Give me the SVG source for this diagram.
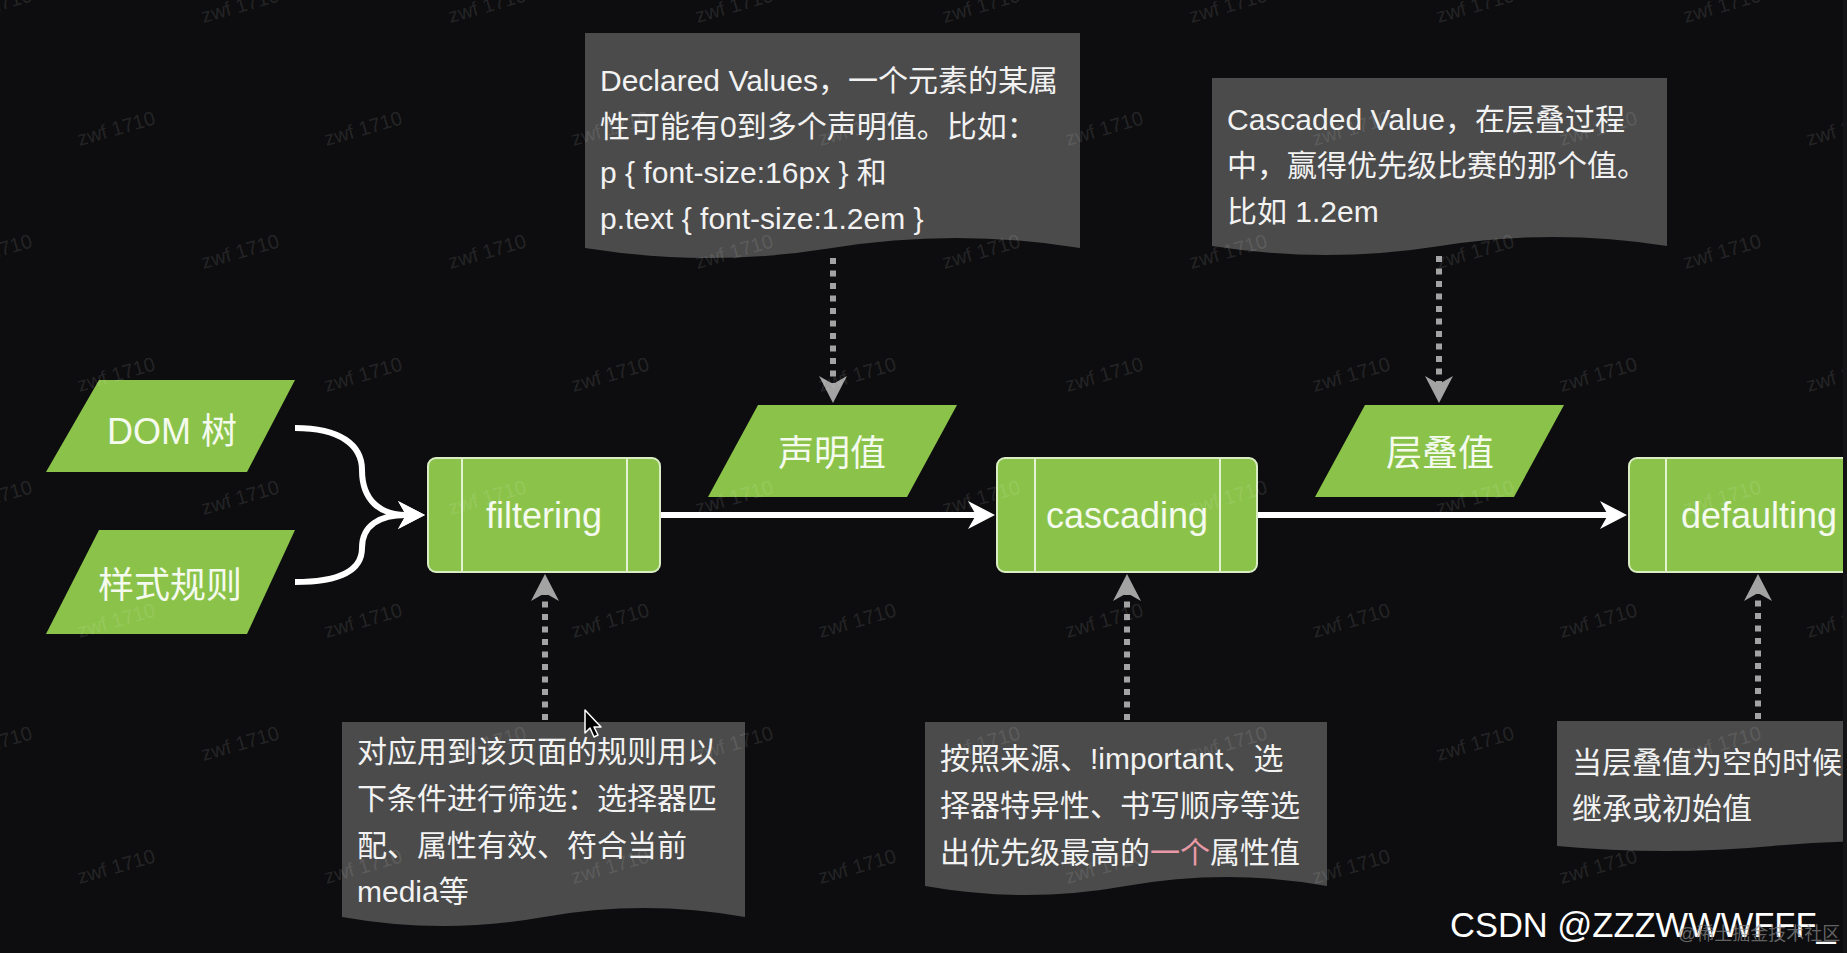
<svg xmlns="http://www.w3.org/2000/svg" width="1847" height="953" viewBox="0 0 1847 953">
<style>
.bg{fill:#0d0d0f}
.para{fill:#8bc34a}
.box{fill:#8bc34a;stroke:#d9ecc4;stroke-width:2}
.inner{stroke:#e4f2d4;stroke-width:2}
.lbl{font-family:"Liberation Sans","Noto Sans CJK SC",sans-serif;font-size:36px;fill:#f4faee}
.note{fill:#4b4b4b}
.nt{font-family:"Liberation Sans","Noto Sans CJK SC",sans-serif;font-size:30px;fill:#f2f2f2}
.flow{fill:none;stroke:#ffffff;stroke-width:6}
.dot{fill:none;stroke:#a3a3a3;stroke-width:6;stroke-dasharray:6 6.5}
.wm{font-family:"Liberation Sans",sans-serif;font-size:20px;fill:#ffffff;fill-opacity:0.11}
</style>
<defs>
<marker id="aw" viewBox="0 0 27 28" refX="8" refY="14" markerWidth="27" markerHeight="28" markerUnits="userSpaceOnUse" orient="auto">
<path d="M0,0 L27,14 L0,28 L8,14 Z" fill="#ffffff"/>
</marker>
<marker id="ag" viewBox="0 0 27 28" refX="8" refY="14" markerWidth="27" markerHeight="28" markerUnits="userSpaceOnUse" orient="auto">
<path d="M0,0 L27,14 L0,28 L8,14 Z" fill="#a3a3a3"/>
</marker>
</defs>
<rect class="bg" x="0" y="0" width="1847" height="953"/>

<g id="note-declared">
<path class="note" d="M585,33 H1080 V248 Q956,228 832,248 Q709,268 585,248 Z"/>
<text class="nt" x="600" y="91">Declared Values，一个元素的某属</text>
<text class="nt" x="600" y="137">性可能有0到多个声明值。比如：</text>
<text class="nt" x="600" y="183">p { font-size:16px } 和</text>
<text class="nt" x="600" y="229">p.text { font-size:1.2em }</text>
</g>
<g id="note-cascaded">
<path class="note" d="M1212,78 H1667 V246 Q1553,228 1440,246 Q1326,264 1212,246 Z"/>
<text class="nt" x="1227" y="130">Cascaded Value，在层叠过程</text>
<text class="nt" x="1227" y="176">中，赢得优先级比赛的那个值。</text>
<text class="nt" x="1227" y="222">比如 1.2em</text>
</g>
<g id="note-filtering">
<path class="note" d="M342,722 H745 V917 Q644,899 544,917 Q443,935 342,917 Z"/>
<text class="nt" x="357" y="762">对应用到该页面的规则用以</text>
<text class="nt" x="357" y="809">下条件进行筛选：选择器匹</text>
<text class="nt" x="357" y="856">配、属性有效、符合当前</text>
<text class="nt" x="357" y="902">media等</text>
</g>
<g id="note-cascading">
<path class="note" d="M925,722 H1327 V886 Q1227,868 1126,886 Q1026,904 925,886 Z"/>
<text class="nt" x="940" y="769">按照来源、!important、选</text>
<text class="nt" x="940" y="816">择器特异性、书写顺序等选</text>
<text class="nt" x="940" y="863">出优先级最高的<tspan fill="#e79aa6">一个</tspan>属性值</text>
</g>
<g id="note-defaulting">
<path class="note" d="M1557,721 H1990 V846 Q1880,836 1773,846 Q1665,856 1557,846 Z"/>
<text class="nt" x="1572" y="773">当层叠值为空的时候</text>
<text class="nt" x="1572" y="819">继承或初始值</text>
</g>

<g id="connectors">
<path class="flow" d="M295,428 C340,428 362,445 362,470 C362,500 380,515 406,515" marker-end="url(#aw)"/>
<path class="flow" d="M295,582 C340,582 362,570 362,548 C362,525 380,515 406,515" marker-end="url(#aw)"/>
<path class="flow" d="M660,515 H976" marker-end="url(#aw)"/>
<path class="flow" d="M1257,515 H1608" marker-end="url(#aw)"/>
<path class="dot" d="M833,258 V384" marker-end="url(#ag)"/>
<path class="dot" d="M1439,256 V384" marker-end="url(#ag)"/>
<path class="dot" d="M545,720 V593" marker-end="url(#ag)"/>
<path class="dot" d="M1127,720 V593" marker-end="url(#ag)"/>
<path class="dot" d="M1758,719 V593" marker-end="url(#ag)"/>
</g>

<g id="dom">
<polygon class="para" points="99,380 295,380 247,472 46,472"/>
<text class="lbl" x="172" y="431" text-anchor="middle" dominant-baseline="central">DOM 树</text>
</g>
<g id="rules">
<polygon class="para" points="99,530 295,530 247,634 46,634"/>
<text class="lbl" x="170" y="585" text-anchor="middle" dominant-baseline="central">样式规则</text>
</g>
<g id="filtering">
<rect class="box" x="428" y="458" width="232" height="114" rx="8"/>
<line class="inner" x1="462" y1="459" x2="462" y2="571"/>
<line class="inner" x1="627" y1="459" x2="627" y2="571"/>
<text class="lbl" x="544" y="528" text-anchor="middle">filtering</text>
</g>
<g id="declared">
<polygon class="para" points="758,405 957,405 907,497 708,497"/>
<text class="lbl" x="832" y="453" text-anchor="middle" dominant-baseline="central">声明值</text>
</g>
<g id="cascading">
<rect class="box" x="997" y="458" width="260" height="114" rx="8"/>
<line class="inner" x1="1035" y1="459" x2="1035" y2="571"/>
<line class="inner" x1="1220" y1="459" x2="1220" y2="571"/>
<text class="lbl" x="1127" y="528" text-anchor="middle">cascading</text>
</g>
<g id="cascaded">
<polygon class="para" points="1365,405 1564,405 1514,497 1315,497"/>
<text class="lbl" x="1440" y="453" text-anchor="middle" dominant-baseline="central">层叠值</text>
</g>
<g id="defaulting">
<rect class="box" x="1629" y="458" width="260" height="114" rx="8"/>
<line class="inner" x1="1666" y1="459" x2="1666" y2="571"/>
<text class="lbl" x="1681" y="528">defaulting</text>
</g>

<g id="watermarks">
<text class="wm" x="-5" y="12" text-anchor="middle" transform="rotate(-16 -5 12)">zwf 1710</text>
<text class="wm" x="242" y="12" text-anchor="middle" transform="rotate(-16 242 12)">zwf 1710</text>
<text class="wm" x="489" y="12" text-anchor="middle" transform="rotate(-16 489 12)">zwf 1710</text>
<text class="wm" x="736" y="12" text-anchor="middle" transform="rotate(-16 736 12)">zwf 1710</text>
<text class="wm" x="983" y="12" text-anchor="middle" transform="rotate(-16 983 12)">zwf 1710</text>
<text class="wm" x="1230" y="12" text-anchor="middle" transform="rotate(-16 1230 12)">zwf 1710</text>
<text class="wm" x="1477" y="12" text-anchor="middle" transform="rotate(-16 1477 12)">zwf 1710</text>
<text class="wm" x="1724" y="12" text-anchor="middle" transform="rotate(-16 1724 12)">zwf 1710</text>
<text class="wm" x="118" y="135" text-anchor="middle" transform="rotate(-16 118 135)">zwf 1710</text>
<text class="wm" x="365" y="135" text-anchor="middle" transform="rotate(-16 365 135)">zwf 1710</text>
<text class="wm" x="612" y="135" text-anchor="middle" transform="rotate(-16 612 135)">zwf 1710</text>
<text class="wm" x="859" y="135" text-anchor="middle" transform="rotate(-16 859 135)">zwf 1710</text>
<text class="wm" x="1106" y="135" text-anchor="middle" transform="rotate(-16 1106 135)">zwf 1710</text>
<text class="wm" x="1353" y="135" text-anchor="middle" transform="rotate(-16 1353 135)">zwf 1710</text>
<text class="wm" x="1600" y="135" text-anchor="middle" transform="rotate(-16 1600 135)">zwf 1710</text>
<text class="wm" x="1847" y="135" text-anchor="middle" transform="rotate(-16 1847 135)">zwf 1710</text>
<text class="wm" x="-5" y="258" text-anchor="middle" transform="rotate(-16 -5 258)">zwf 1710</text>
<text class="wm" x="242" y="258" text-anchor="middle" transform="rotate(-16 242 258)">zwf 1710</text>
<text class="wm" x="489" y="258" text-anchor="middle" transform="rotate(-16 489 258)">zwf 1710</text>
<text class="wm" x="736" y="258" text-anchor="middle" transform="rotate(-16 736 258)">zwf 1710</text>
<text class="wm" x="983" y="258" text-anchor="middle" transform="rotate(-16 983 258)">zwf 1710</text>
<text class="wm" x="1230" y="258" text-anchor="middle" transform="rotate(-16 1230 258)">zwf 1710</text>
<text class="wm" x="1477" y="258" text-anchor="middle" transform="rotate(-16 1477 258)">zwf 1710</text>
<text class="wm" x="1724" y="258" text-anchor="middle" transform="rotate(-16 1724 258)">zwf 1710</text>
<text class="wm" x="118" y="381" text-anchor="middle" transform="rotate(-16 118 381)">zwf 1710</text>
<text class="wm" x="365" y="381" text-anchor="middle" transform="rotate(-16 365 381)">zwf 1710</text>
<text class="wm" x="612" y="381" text-anchor="middle" transform="rotate(-16 612 381)">zwf 1710</text>
<text class="wm" x="859" y="381" text-anchor="middle" transform="rotate(-16 859 381)">zwf 1710</text>
<text class="wm" x="1106" y="381" text-anchor="middle" transform="rotate(-16 1106 381)">zwf 1710</text>
<text class="wm" x="1353" y="381" text-anchor="middle" transform="rotate(-16 1353 381)">zwf 1710</text>
<text class="wm" x="1600" y="381" text-anchor="middle" transform="rotate(-16 1600 381)">zwf 1710</text>
<text class="wm" x="1847" y="381" text-anchor="middle" transform="rotate(-16 1847 381)">zwf 1710</text>
<text class="wm" x="-5" y="504" text-anchor="middle" transform="rotate(-16 -5 504)">zwf 1710</text>
<text class="wm" x="242" y="504" text-anchor="middle" transform="rotate(-16 242 504)">zwf 1710</text>
<text class="wm" x="489" y="504" text-anchor="middle" transform="rotate(-16 489 504)">zwf 1710</text>
<text class="wm" x="736" y="504" text-anchor="middle" transform="rotate(-16 736 504)">zwf 1710</text>
<text class="wm" x="983" y="504" text-anchor="middle" transform="rotate(-16 983 504)">zwf 1710</text>
<text class="wm" x="1230" y="504" text-anchor="middle" transform="rotate(-16 1230 504)">zwf 1710</text>
<text class="wm" x="1477" y="504" text-anchor="middle" transform="rotate(-16 1477 504)">zwf 1710</text>
<text class="wm" x="1724" y="504" text-anchor="middle" transform="rotate(-16 1724 504)">zwf 1710</text>
<text class="wm" x="118" y="627" text-anchor="middle" transform="rotate(-16 118 627)">zwf 1710</text>
<text class="wm" x="365" y="627" text-anchor="middle" transform="rotate(-16 365 627)">zwf 1710</text>
<text class="wm" x="612" y="627" text-anchor="middle" transform="rotate(-16 612 627)">zwf 1710</text>
<text class="wm" x="859" y="627" text-anchor="middle" transform="rotate(-16 859 627)">zwf 1710</text>
<text class="wm" x="1106" y="627" text-anchor="middle" transform="rotate(-16 1106 627)">zwf 1710</text>
<text class="wm" x="1353" y="627" text-anchor="middle" transform="rotate(-16 1353 627)">zwf 1710</text>
<text class="wm" x="1600" y="627" text-anchor="middle" transform="rotate(-16 1600 627)">zwf 1710</text>
<text class="wm" x="1847" y="627" text-anchor="middle" transform="rotate(-16 1847 627)">zwf 1710</text>
<text class="wm" x="-5" y="750" text-anchor="middle" transform="rotate(-16 -5 750)">zwf 1710</text>
<text class="wm" x="242" y="750" text-anchor="middle" transform="rotate(-16 242 750)">zwf 1710</text>
<text class="wm" x="489" y="750" text-anchor="middle" transform="rotate(-16 489 750)">zwf 1710</text>
<text class="wm" x="736" y="750" text-anchor="middle" transform="rotate(-16 736 750)">zwf 1710</text>
<text class="wm" x="983" y="750" text-anchor="middle" transform="rotate(-16 983 750)">zwf 1710</text>
<text class="wm" x="1230" y="750" text-anchor="middle" transform="rotate(-16 1230 750)">zwf 1710</text>
<text class="wm" x="1477" y="750" text-anchor="middle" transform="rotate(-16 1477 750)">zwf 1710</text>
<text class="wm" x="1724" y="750" text-anchor="middle" transform="rotate(-16 1724 750)">zwf 1710</text>
<text class="wm" x="118" y="873" text-anchor="middle" transform="rotate(-16 118 873)">zwf 1710</text>
<text class="wm" x="365" y="873" text-anchor="middle" transform="rotate(-16 365 873)">zwf 1710</text>
<text class="wm" x="612" y="873" text-anchor="middle" transform="rotate(-16 612 873)">zwf 1710</text>
<text class="wm" x="859" y="873" text-anchor="middle" transform="rotate(-16 859 873)">zwf 1710</text>
<text class="wm" x="1106" y="873" text-anchor="middle" transform="rotate(-16 1106 873)">zwf 1710</text>
<text class="wm" x="1353" y="873" text-anchor="middle" transform="rotate(-16 1353 873)">zwf 1710</text>
<text class="wm" x="1600" y="873" text-anchor="middle" transform="rotate(-16 1600 873)">zwf 1710</text>
</g>

<g id="cursor">
<polygon points="585,710 585,733 590,728 594,737 598,735 594,727 601,727" fill="#000000" stroke="#ffffff" stroke-width="1.5" stroke-linejoin="round"/>
</g>

<g id="credit">
<text x="1450" y="937" font-family="Liberation Sans, sans-serif" font-size="34.5" fill="#ffffff">CSDN @ZZZWWWFFF_</text>
<text x="1678" y="940" font-family="Liberation Sans, Noto Sans CJK SC, sans-serif" font-size="18" fill="#8a8a8a" fill-opacity="0.7">@稀土掘金技术社区</text>
</g>
<rect x="1843" y="0" width="4" height="953" fill="#141416"/>
</svg>
